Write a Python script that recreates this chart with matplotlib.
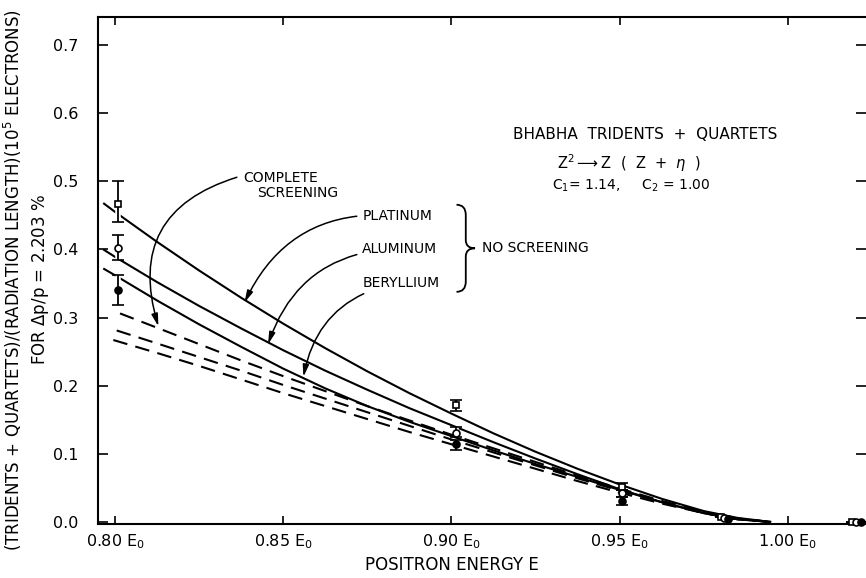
import matplotlib
matplotlib.use("Agg")
import matplotlib.pyplot as plt
import matplotlib.patheffects as pe
from matplotlib.path import Path
from matplotlib.patches import PathPatch

plt.rcParams.update({"font.family": "DejaVu Sans", "font.size": 10.5})

# theory curves (no screening): Pt, Al, Be
X_SOLID = [0.7965, 0.80, 0.8125, 0.825, 0.8375, 0.85, 0.8625, 0.875, 0.8875,
           0.90, 0.9125, 0.925, 0.9375, 0.95, 0.9625, 0.975, 0.985, 0.995]
PLATINUM = [0.468, 0.455, 0.411, 0.369, 0.329, 0.291, 0.255, 0.221, 0.189,
            0.159, 0.130, 0.103, 0.078, 0.055, 0.034, 0.016, 0.006, 0.0]
ALUMINUM = [0.400, 0.389, 0.352, 0.317, 0.284, 0.252, 0.222, 0.194, 0.167,
            0.142, 0.117, 0.093, 0.070, 0.048, 0.029, 0.013, 0.004, 0.0]
BERYLLIUM = [0.372, 0.362, 0.325, 0.290, 0.257, 0.225, 0.196, 0.170, 0.147,
             0.126, 0.105, 0.085, 0.066, 0.047, 0.029, 0.013, 0.004, 0.0]

# complete screening curves (dashed)
X_DASH_TAIL = [0.8125, 0.825, 0.8375, 0.85, 0.8625, 0.875, 0.8875, 0.90,
               0.9125, 0.925, 0.9375, 0.95, 0.9625, 0.975, 0.985, 0.995]
DASH_START_X = [0.8015, 0.8005, 0.7995]
DASH_TOP = [0.306, 0.285, 0.261, 0.237, 0.214, 0.192, 0.170, 0.149, 0.128,
            0.108, 0.088, 0.068, 0.049, 0.031, 0.015, 0.005, 0.0]
DASH_MID = [0.281, 0.262, 0.242, 0.222, 0.201, 0.181, 0.161, 0.141, 0.121,
            0.102, 0.083, 0.064, 0.046, 0.029, 0.014, 0.005, 0.0]
DASH_BOT = [0.267, 0.248, 0.229, 0.209, 0.189, 0.170, 0.151, 0.132, 0.114,
            0.096, 0.078, 0.060, 0.043, 0.027, 0.013, 0.004, 0.0]

# measured points: open square, open circle, filled circle
SQ_X = [0.8008, 0.9012, 0.9508, 0.9800, 1.0190]
SQ_Y = [0.467, 0.172, 0.052, 0.008, 0.0]
SQ_LO = [0.027, 0.009, 0.005, 0.0, 0.0]
SQ_HI = [0.033, 0.007, 0.005, 0.0, 0.0]
OC_X = [0.8008, 0.9012, 0.9508, 0.9810, 1.0203]
OC_Y = [0.402, 0.130, 0.042, 0.006, 0.0]
OC_LO = [0.017, 0.006, 0.005, 0.0, 0.0]
OC_HI = [0.019, 0.009, 0.005, 0.0, 0.0]
FC_X = [0.8008, 0.9012, 0.9508, 0.9822, 1.0216]
FC_Y = [0.341, 0.114, 0.031, 0.004, 0.0]
FC_LO = [0.023, 0.008, 0.006, 0.0, 0.0]
FC_HI = [0.022, 0.007, 0.005, 0.0, 0.0]

XTICKS = [0.80, 0.85, 0.90, 0.95, 1.00]
XTICKLABELS = ["0.80 E$_0$", "0.85 E$_0$", "0.90 E$_0$", "0.95 E$_0$", "1.00 E$_0$"]
YTICKS = [0.0, 0.1, 0.2, 0.3, 0.4, 0.5, 0.6, 0.7]

fig = plt.figure(figsize=(8.66, 5.78), dpi=100)
ax = fig.add_axes([0.1126, 0.0934, 1.0 - 0.1126, 0.9706 - 0.0934])
ax.set_xlim(0.7948, 1.0232)
ax.set_ylim(-0.003, 0.741)

for ys in (PLATINUM, ALUMINUM, BERYLLIUM):
    ax.plot(X_SOLID, ys, color="black", lw=1.5, solid_capstyle="butt", zorder=2)
for x0, ys in zip(DASH_START_X, (DASH_TOP, DASH_MID, DASH_BOT)):
    ax.plot([x0] + X_DASH_TAIL, ys, color="black", lw=1.5,
            dashes=(7, 4), zorder=2)

halo = [pe.withStroke(linewidth=4, foreground="white")]
for xs, ys, lo, hi, mk, fc in [(SQ_X, SQ_Y, SQ_LO, SQ_HI, "s", "white"),
                               (OC_X, OC_Y, OC_LO, OC_HI, "o", "white"),
                               (FC_X, FC_Y, FC_LO, FC_HI, "o", "black")]:
    line, caps, bars = ax.errorbar(xs, ys, yerr=[lo, hi], fmt=mk, ms=5,
                                   mfc=fc, mec="black", mew=1.2,
                                   ecolor="black", elinewidth=1.3, capsize=4.5,
                                   capthick=1.3, zorder=4, clip_on=False)
    for b in bars:
        b.set_path_effects(halo)

# labels with curved arrows
arrow = dict(arrowstyle="-|>,head_length=0.7,head_width=0.18", color="black",
             lw=1.1, shrinkA=2, shrinkB=0)
ax.text(0.8381, 0.505, "COMPLETE", ha="left", va="center", fontsize=10)
ax.text(0.8423, 0.483, "SCREENING", ha="left", va="center", fontsize=10)
ax.annotate("", xy=(0.8129, 0.287), xytext=(0.8370, 0.507),
            arrowprops=dict(arrow, connectionstyle="arc3,rad=0.5"))
ax.annotate("PLATINUM", xy=(0.8385, 0.322), xytext=(0.8735, 0.449),
            ha="left", va="center", fontsize=10,
            arrowprops=dict(arrow, connectionstyle="arc3,rad=0.35"))
ax.annotate("ALUMINUM", xy=(0.8455, 0.261), xytext=(0.8735, 0.401),
            ha="left", va="center", fontsize=10,
            arrowprops=dict(arrow, connectionstyle="arc3,rad=0.35"))
ax.annotate("BERYLLIUM", xy=(0.8560, 0.213), xytext=(0.8735, 0.351),
            ha="left", va="center", fontsize=10,
            arrowprops=dict(arrow, connectionstyle="arc3,rad=0.35"))

# brace grouping the three no-screening labels
bx, bw, ytop, ybot = 0.9015, 0.0055, 0.4655, 0.3377
ymid = (ytop + ybot) / 2
verts = [(bx, ytop), (bx + bw / 2, ytop), (bx + bw / 2, ytop - 0.015),
         (bx + bw / 2, ymid + 0.012),
         (bx + bw / 2, ymid), (bx + bw, ymid),
         (bx + bw / 2, ymid), (bx + bw / 2, ymid - 0.012),
         (bx + bw / 2, ybot + 0.015),
         (bx + bw / 2, ybot), (bx, ybot)]
codes = [Path.MOVETO, Path.CURVE3, Path.CURVE3, Path.LINETO,
         Path.CURVE3, Path.CURVE3, Path.CURVE3, Path.CURVE3,
         Path.LINETO, Path.CURVE3, Path.CURVE3]
ax.add_patch(PathPatch(Path(verts, codes), fill=False, lw=1.3, color="black"))
ax.text(0.9092, ymid, "NO SCREENING", ha="left", va="center", fontsize=10)

ax.text(0.9577, 0.568, "BHABHA  TRIDENTS  +  QUARTETS", ha="center",
        va="center", fontsize=11)
ax.text(0.9527, 0.527, r"Z$^2$$\longrightarrow$Z  (  Z  +  $\eta$  )",
        ha="center", va="center", fontsize=10.5)
ax.text(0.9533, 0.494, r"C$_1$= 1.14,     C$_2$ = 1.00", ha="center",
        va="center", fontsize=10)

ax.set_xticks(XTICKS)
ax.set_xticklabels(XTICKLABELS, fontsize=11.5)
ax.set_yticks(YTICKS)
ax.set_yticklabels([f"{v:.1f}" for v in YTICKS], fontsize=11.5)
ax.tick_params(axis="y", direction="in", length=7, width=1.2, pad=14,
               left=True, right=True)
ax.tick_params(axis="x", direction="in", length=6, width=1.2, pad=6,
               bottom=True, top=True)
for side in ("left", "bottom", "top"):
    ax.spines[side].set_linewidth(1.5)
ax.spines["right"].set_visible(False)

fig.text(452 / 866, 1 - 565 / 578, "POSITRON ENERGY E", ha="center",
         va="center", fontsize=12)
fig.text(13 / 866, 1 - 280 / 578,
         "(TRIDENTS + QUARTETS)/(RADIATION LENGTH)(10$^5$ ELECTRONS)",
         rotation=90, ha="center", va="center", fontsize=12)
fig.text(41 / 866, 1 - 280 / 578, r"FOR $\Delta$p/p = 2.203 %",
         rotation=90, ha="center", va="center", fontsize=12)

fig.savefig("out.png", dpi=100)
